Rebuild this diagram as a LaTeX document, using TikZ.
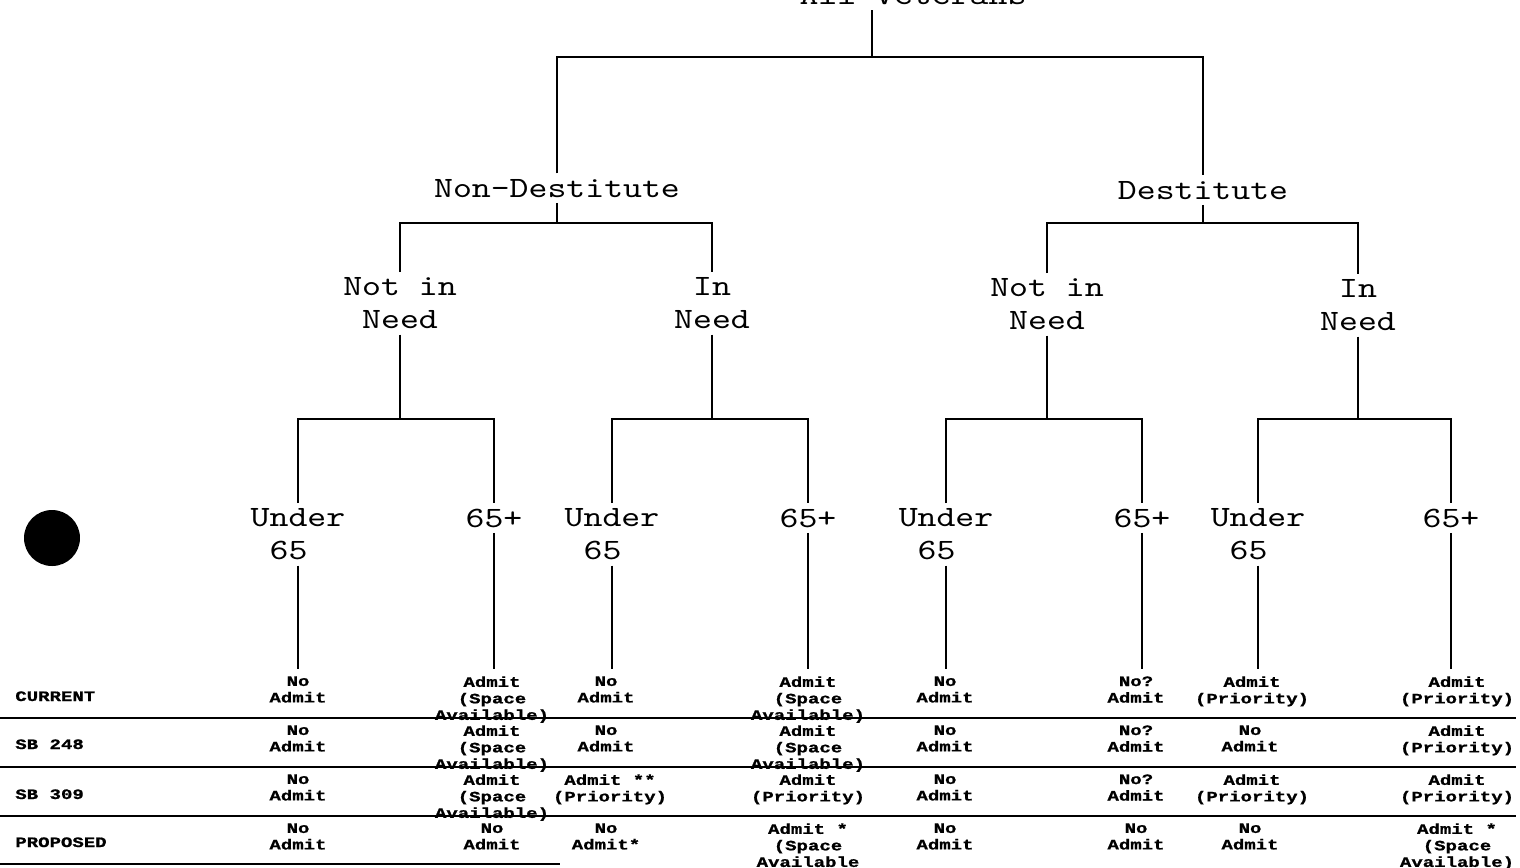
\documentclass[tikz,border=0pt]{standalone}
\usepackage{fontspec}
\usetikzlibrary{positioning}
\newfontfamily\treefont[FakeStretch=1.22]{lmmono10-regular.otf}
\newfontfamily\cellfont[FakeStretch=1.32, BoldFeatures={FakeBold=1}]{Liberation Mono}
\tikzset{
  branch/.style={line width=1.1pt},
  rowrule/.style={line width=1.3pt},
  treelabel/.style={font=\treefont\fontsize{16.8}{18.8}\selectfont, inner xsep=0pt, inner ysep=3pt, align=center},
  cell/.style={font=\cellfont\bfseries\fontsize{8.2}{9.4}\selectfont, inner xsep=0pt, inner ysep=4pt, align=center, anchor=north},
  rowlabel/.style={font=\cellfont\bfseries\fontsize{8.2}{9.4}\selectfont, inner sep=0pt, anchor=base west}
}
\begin{document}
\begin{tikzpicture}[x=0.02cm, y=-0.02cm]
  \useasboundingbox (0,0) rectangle (1520,867);
  % heights of the bars
  \coordinate (bar0) at (0,57);
  \coordinate (bar1) at (0,223);
  \coordinate (bar2) at (0,419);
  \coordinate (root) at (872,10);

  % tree
  \node[treelabel, anchor=base] (title) at (913,4) {All Veterans};
  \node[treelabel, anchor=base] (nondest) at (557,197) {Non-Destitute};
  \node[treelabel, anchor=base] (dest) at (1203,199) {Destitute};
  \node[treelabel, anchor=north] (ndout) at (400,272) {Not in\\Need};
  \node[treelabel, anchor=north] (ndin) at (712,272) {In\\Need};
  \node[treelabel, anchor=north] (dout) at (1047,273) {Not in\\Need};
  \node[treelabel, anchor=north] (din) at (1358,274) {In\\Need};
  \foreach \x/\n in {298/1, 612/3, 946/5, 1258/7}
    \node[treelabel, align=left, anchor=north] (age\n) at (\x,503) {Under\\\phantom{0}65};
  \foreach \x/\n in {494/2, 808/4, 1142/6, 1451/8}
    \node[treelabel, anchor=base] (age\n) at (\x,527) {65+};

  \draw[branch] (root) -- (root |- bar0);
  \draw[branch] (nondest.north) -- (nondest.north |- bar0) -- (dest.north |- bar0) -- (dest.north);
  \draw[branch] (nondest.south) -- (nondest.south |- bar1);
  \draw[branch] (dest.south) -- (dest.south |- bar1);
  \draw[branch] (ndout.north) -- (ndout.north |- bar1) -- (ndin.north |- bar1) -- (ndin.north);
  \draw[branch] (dout.north) -- (dout.north |- bar1) -- (din.north |- bar1) -- (din.north);
  \draw[branch] (ndout.south) -- (ndout.south |- bar2);
  \draw[branch] (ndin.south) -- (ndin.south |- bar2);
  \draw[branch] (dout.south) -- (dout.south |- bar2);
  \draw[branch] (din.south) -- (din.south |- bar2);
  \draw[branch] (age1.north) -- (age1.north |- bar2) -- (age2.north |- bar2) -- (age2.north);
  \draw[branch] (age3.north) -- (age3.north |- bar2) -- (age4.north |- bar2) -- (age4.north);
  \draw[branch] (age5.north) -- (age5.north |- bar2) -- (age6.north |- bar2) -- (age6.north);
  \draw[branch] (age7.north) -- (age7.north |- bar2) -- (age8.north |- bar2) -- (age8.north);

  % table
  \foreach \x/\txt [count=\i] in {298/{No\\Admit}, 492/{Admit\\(Space\\Available)}, 606/{No\\Admit}, 808/{Admit\\(Space\\Available)}, 945/{No\\Admit}, 1136/{No?\\Admit}, 1252/{Admit\\(Priority)}, 1457/{Admit\\(Priority)}}
    \node[cell] (cur\i) at (\x,669) {\txt};
  \foreach \x/\txt [count=\i] in {298/{No\\Admit}, 492/{Admit\\(Space\\Available)}, 606/{No\\Admit}, 808/{Admit\\(Space\\Available)}, 945/{No\\Admit}, 1136/{No?\\Admit}, 1250/{No\\Admit}, 1457/{Admit\\(Priority)}}
    \node[cell] (sba\i) at (\x,718) {\txt};
  \foreach \x/\txt [count=\i] in {298/{No\\Admit}, 492/{Admit\\(Space\\Available)}, 610/{Admit **\\(Priority)}, 808/{Admit\\(Priority)}, 945/{No\\Admit}, 1136/{No?\\Admit}, 1252/{Admit\\(Priority)}, 1457/{Admit\\(Priority)}}
    \node[cell] (sbb\i) at (\x,767) {\txt};
  \foreach \x/\txt [count=\i] in {298/{No\\Admit}, 492/{No\\Admit}, 606/{No\\Admit*}, 808/{Admit *\\(Space\\Available}, 945/{No\\Admit}, 1136/{No\\Admit}, 1250/{No\\Admit}, 1457/{Admit *\\(Space\\Available)}}
    \node[cell] (prop\i) at (\x,816) {\txt};
  \foreach \i in {1,...,8}
    \draw[branch] (age\i.south) -- (age\i.south |- cur\i.north);

  \node[rowlabel] (rcur) at (15,701) {CURRENT};
  \node[rowlabel] (rsba) at (15,749) {SB 248};
  \node[rowlabel] (rsbb) at (15,799) {SB 309};
  \node[rowlabel] (rprop) at (15,847) {PROPOSED};

  \draw[rowrule] (0,718) -- (1516,718);
  \draw[rowrule] (0,767) -- (1516,767);
  \draw[rowrule] (0,816) -- (1516,816);
  \draw[rowrule] (0,864) -- (560,864);

  % punch hole
  \fill (52,538) circle[radius=0.56cm];
\end{tikzpicture}
\end{document}
